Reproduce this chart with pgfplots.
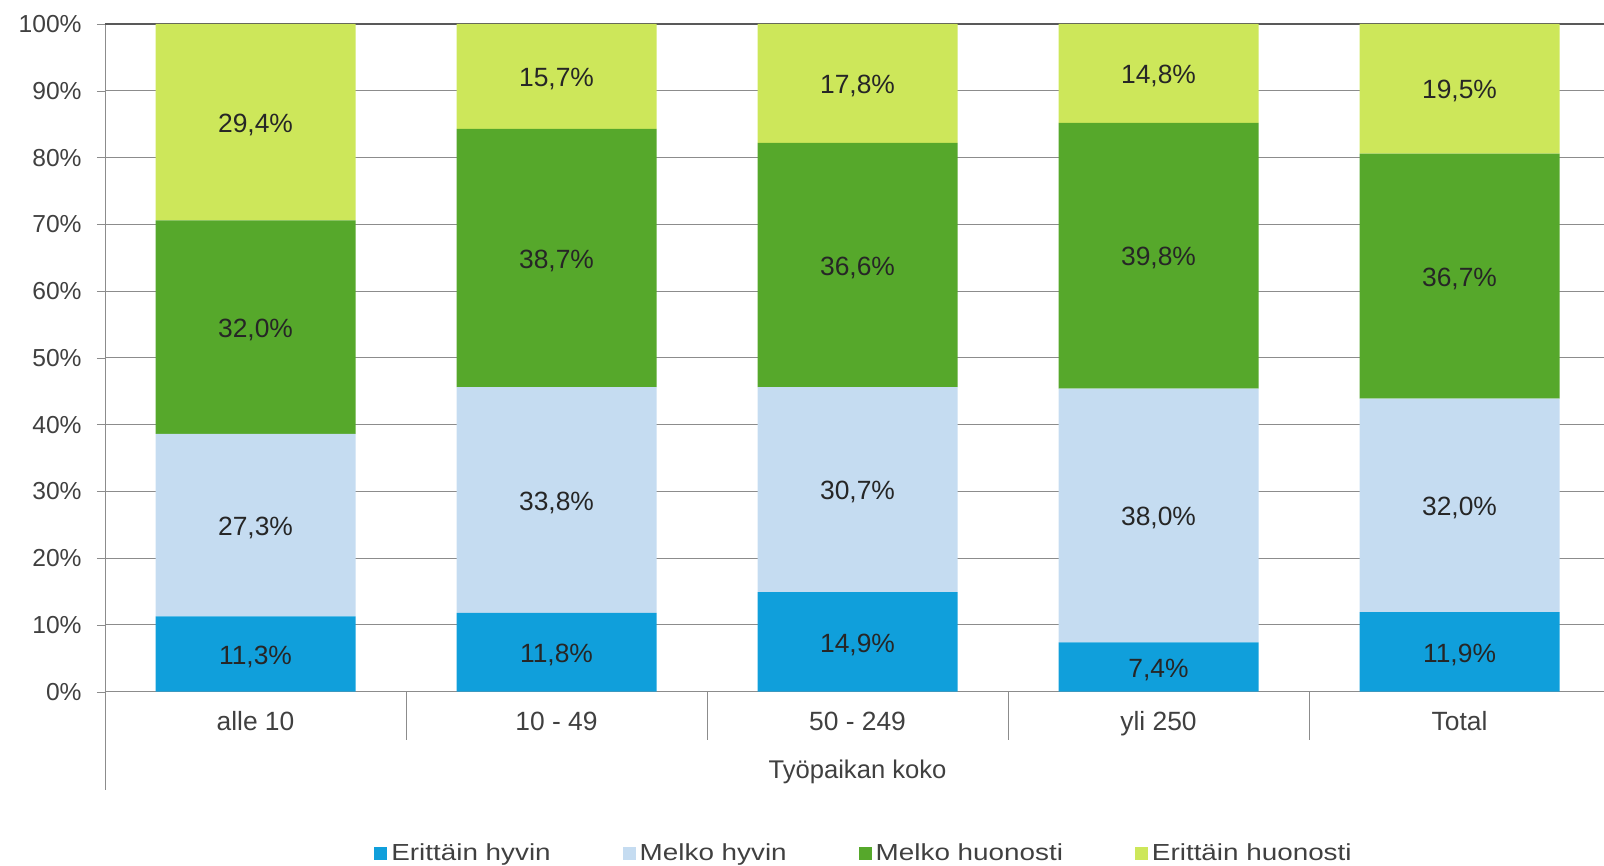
\documentclass[border=0pt]{standalone}
\usepackage{fontspec}
\setmainfont{Liberation Sans}
\newfontfamily\legfont{Liberation Sans}[FakeStretch=1.2]
\usepackage{pgfplots}
\pgfplotsset{compat=1.18}

\definecolor{c1}{HTML}{109FDB}
\definecolor{c2}{HTML}{C5DCF1}
\definecolor{c3}{HTML}{56A82B}
\definecolor{c4}{HTML}{CDE75A}
\definecolor{gridc}{HTML}{8C8C8C}
\definecolor{topc}{HTML}{595959}
\definecolor{txt}{HTML}{404040}
\definecolor{lbl}{HTML}{262626}

\begin{document}
\begin{tikzpicture}
\useasboundingbox (-52.5pt,-87.15pt) rectangle (749.5pt,345.85pt);
\begin{axis}[
    ybar stacked,
    scale only axis,
    width=749.5pt,
    height=333.85pt,
    bar width=100pt,
    xmin=-0.5, xmax=4.48,
    ymin=0, ymax=100,
    enlarge x limits=false,
    enlarge y limits=false,
    clip=false,
    /pgf/number format/assume math mode=true,
    axis lines*=left,
    axis line style={gridc, -},
    xtick=data,
    xticklabels={alle 10, 10 - 49, 50 - 249, yli 250, Total},
    xtick style={draw=none},
    xticklabel style={anchor=base, yshift=-15.6pt, text=txt,
        font=\fontsize{13.2}{15}\selectfont},
    ytick={0,10,...,100},
    yticklabel={\pgfmathprintnumber{\tick}\%},
    yticklabel style={anchor=east, inner sep=0pt, xshift=-7.5pt, text=txt,
        font=\fontsize{12.3}{14}\selectfont},
    tick align=outside,
    major tick length=4pt,
    ytick style={gridc},
    ymajorgrids,
    grid style={gridc, line width=0.5pt},
    point meta=explicit,
    nodes near coords={\pgfmathprintnumber[fixed,fixed zerofill,precision=1,use comma]{\pgfplotspointmeta}\%},
    every node near coord/.append style={anchor=center, yshift=-1.3pt,
        text=lbl, font=\fontsize{13.2}{15}\selectfont},
    legend image code/.code={\fill[#1] (0pt,-3.25pt) rectangle (6.5pt,3.25pt);},
    legend columns=4,
    legend cell align=left,
    legend style={draw=none, fill=none, at={(0.507,-0.242)}, anchor=center,
        font=\legfont\fontsize{11.6}{14}\selectfont, text=txt,
        /tikz/every even column/.append style={column sep=34pt}},
]
\addplot[fill=c1, draw=none] coordinates {(0,11.3) [11.3] (1,11.8) [11.8] (2,14.9) [14.9] (3,7.4) [7.4] (4,11.9) [11.9]};
\addplot[fill=c2, draw=none] coordinates {(0,27.3) [27.3] (1,33.8) [33.8] (2,30.7) [30.7] (3,38.0) [38.0] (4,32.0) [32.0]};
\addplot[fill=c3, draw=none] coordinates {(0,32.0) [32.0] (1,38.7) [38.7] (2,36.6) [36.6] (3,39.8) [39.8] (4,36.7) [36.7]};
\addplot[fill=c4, draw=none] coordinates {(0,29.4) [29.4] (1,15.7) [15.7] (2,17.8) [17.8] (3,14.8) [14.8] (4,19.4) [19.5]};
\legend{Erittäin hyvin, Melko hyvin, Melko huonosti, Erittäin huonosti}
\draw[topc, line width=1pt] (rel axis cs:0,1) -- (rel axis cs:1,1);
\draw[gridc] (rel axis cs:0,0) -- ++(0pt,-49pt);
\draw[gridc] (axis cs:0.5,0) -- ++(0pt,-24pt);
\draw[gridc] (axis cs:1.5,0) -- ++(0pt,-24pt);
\draw[gridc] (axis cs:2.5,0) -- ++(0pt,-24pt);
\draw[gridc] (axis cs:3.5,0) -- ++(0pt,-24pt);
\node[anchor=base, text=txt, font=\fontsize{12.8}{15}\selectfont]
    at (axis cs:2,0) [yshift=-43.3pt] {Työpaikan koko};
\end{axis}
\end{tikzpicture}
\end{document}
